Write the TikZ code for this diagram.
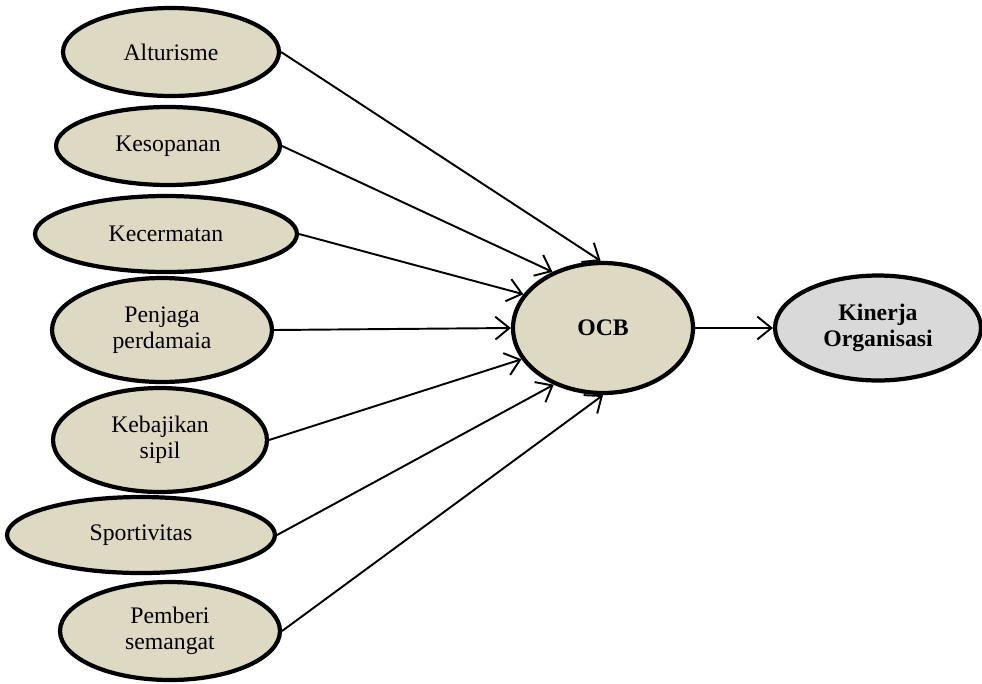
\documentclass[tikz,border=0pt]{standalone}
\usepackage{fontspec}
\setmainfont{Liberation Serif}
\usepackage{tikz}
\usetikzlibrary{arrows.meta,shapes,positioning}
\usepackage{xcolor}
\definecolor{ocbtan}{RGB}{221,217,195}
\definecolor{kingray}{RGB}{217,217,217}
\tikzstyle{dim} = [ellipse, draw, line width=2.4pt, fill=ocbtan, inner sep=0pt, align=center, font=\fontsize{13.5}{14.5}\selectfont]
\tikzstyle{arrow} = [line width=1.1pt, -{Straight Barb[length=8pt,width=13pt,line width=1.1pt]}]

\begin{document}
\begin{tikzpicture}[x=0.02cm, y=-0.02cm]
\useasboundingbox (0,0) rectangle (982,683);

% Dimensi OCB
\node[dim, minimum width=4.32cm, minimum height=1.76cm] (alt) at (171,52) {Alturisme};
\node[dim, minimum width=4.48cm, minimum height=1.56cm] (kes) at (168,146) {Kesopanan};
\node[dim, minimum width=5.24cm, minimum height=1.52cm] (kec) at (166,234) {Kecermatan};
\node[dim, minimum width=4.4cm, minimum height=2.08cm] (pen) at (162,330) {Penjaga\\perdamaia};
\node[dim, minimum width=4.28cm, minimum height=2.08cm] (keb) at (160,440) {Kebajikan\\sipil};
\node[dim, minimum width=5.36cm, minimum height=1.52cm] (spo) at (141,535) {Sportivitas};
\node[dim, minimum width=4.4cm, minimum height=1.96cm] (pem) at (170,631) {Pemberi\\semangat};

% OCB dan kinerja
\node[dim, minimum width=3.6cm, minimum height=2.6cm, font=\fontsize{13.5}{14.5}\selectfont\bfseries] (ocb) at (603,328) {OCB};
\node[dim, fill=kingray, minimum width=4.12cm, minimum height=2.1cm, font=\fontsize{13.5}{14.5}\selectfont\bfseries] (kin) at (878,328) {Kinerja\\Organisasi};

% Panah
\draw[arrow] (alt.east) -- (ocb.92);
\draw[arrow] (kes.east) -- (ocb.132);
\draw[arrow] (kec.east) -- (ocb.157);
\draw[arrow] (pen.east) -- (ocb.180);
\draw[arrow] (keb.east) -- (ocb.201);
\draw[arrow] (spo.east) -- (ocb.229);
\draw[arrow] (pem.east) -- (ocb.270);
\draw[arrow] (ocb.east) -- (kin.west);
\end{tikzpicture}
\end{document}
